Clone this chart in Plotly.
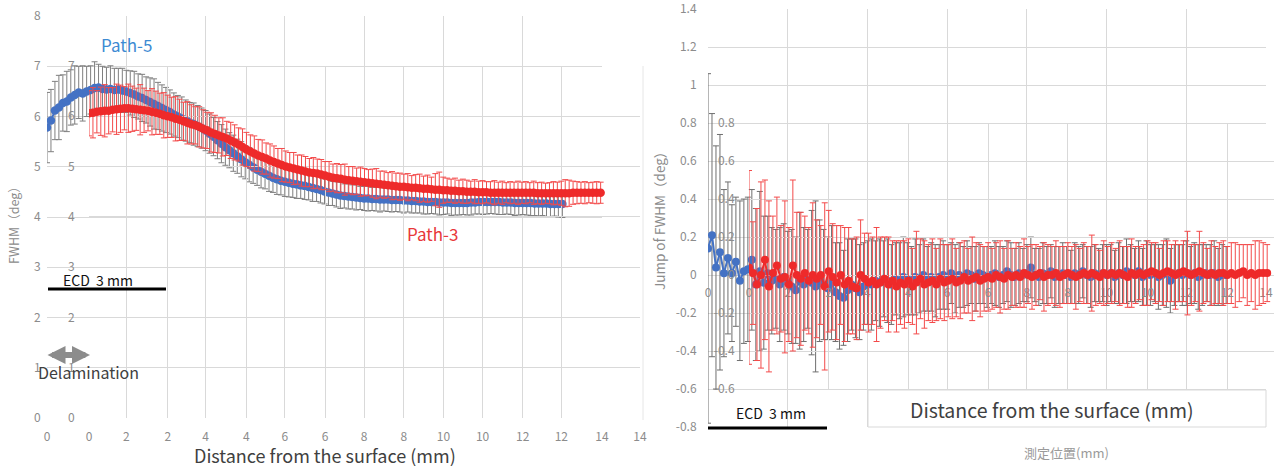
import plotly.graph_objects as go

W, H = 1277, 466
STEP_MM = 0.1

# ---------------- data ----------------
# Left panel: FWHM (deg) vs distance (mm)
PATH5_FWHM = [5.78,5.92,6.12,6.18,6.27,6.30,6.38,6.43,6.48,6.46,
 6.50,6.53,6.57,6.58,6.55,6.54,6.55,6.53,6.54,6.52,
 6.50,6.47,6.44,6.40,6.37,6.33,6.29,6.25,6.21,6.17,
 6.13,6.09,6.04,6.00,5.96,5.92,5.88,5.85,5.81,5.77,
 5.72,5.66,5.60,5.53,5.46,5.39,5.33,5.27,5.21,5.15,
 5.09,5.04,4.99,4.94,4.90,4.86,4.82,4.78,4.75,4.72,
 4.70,4.68,4.66,4.65,4.63,4.62,4.60,4.58,4.56,4.54,
 4.51,4.49,4.47,4.45,4.43,4.42,4.41,4.40,4.39,4.38,
 4.37,4.37,4.36,4.36,4.35,4.35,4.35,4.34,4.34,4.34,
 4.33,4.33,4.32,4.32,4.31,4.31,4.30,4.30,4.30,4.29,
 4.29,4.29,4.28,4.28,4.28,4.28,4.28,4.29,4.29,4.30,
 4.30,4.30,4.30,4.30,4.30,4.29,4.29,4.29,4.28,4.28,
 4.28,4.28,4.28,4.27,4.27,4.27,4.27,4.26,4.26,4.26,
 4.26]
PATH5_FWHM_ERR = [0.70,0.62,0.58,0.64,0.56,0.60,0.55,0.58,0.52,0.55,
 0.50,0.48,0.52,0.46,0.45,0.44,0.46,0.43,0.42,0.44,
 0.42,0.44,0.46,0.45,0.47,0.46,0.48,0.50,0.47,0.46,
 0.45,0.44,0.43,0.42,0.43,0.41,0.40,0.42,0.41,0.40,
 0.40,0.39,0.38,0.37,0.38,0.36,0.35,0.36,0.34,0.35,
 0.33,0.34,0.32,0.31,0.32,0.30,0.31,0.29,0.30,0.28,
 0.29,0.28,0.27,0.28,0.26,0.27,0.26,0.27,0.25,0.26,
 0.25,0.26,0.24,0.25,0.26,0.24,0.25,0.24,0.25,0.23,
 0.24,0.25,0.23,0.24,0.25,0.23,0.24,0.24,0.23,0.24,
 0.25,0.23,0.24,0.24,0.23,0.25,0.24,0.23,0.24,0.25,
 0.24,0.23,0.25,0.24,0.24,0.23,0.24,0.25,0.23,0.24,
 0.25,0.24,0.23,0.24,0.25,0.24,0.23,0.24,0.25,0.24,
 0.23,0.24,0.25,0.24,0.25,0.24,0.26,0.25,0.24,0.26,
 0.27]
PATH3_FWHM = [6.06,6.07,6.09,6.10,6.11,6.11,6.13,6.14,6.15,6.16,
 6.16,6.15,6.14,6.13,6.12,6.11,6.09,6.07,6.05,6.02,
 6.00,5.98,5.95,5.93,5.90,5.87,5.84,5.82,5.79,5.75,
 5.72,5.68,5.65,5.62,5.59,5.56,5.52,5.48,5.44,5.39,
 5.34,5.30,5.26,5.22,5.19,5.16,5.12,5.09,5.06,5.03,
 5.00,4.98,4.96,4.94,4.92,4.90,4.88,4.87,4.86,4.84,
 4.82,4.80,4.78,4.77,4.76,4.74,4.73,4.72,4.71,4.70,
 4.69,4.68,4.67,4.66,4.65,4.64,4.63,4.62,4.61,4.60,
 4.60,4.59,4.58,4.58,4.57,4.56,4.56,4.55,4.54,4.54,
 4.53,4.53,4.52,4.52,4.51,4.51,4.50,4.50,4.50,4.49,
 4.49,4.49,4.48,4.48,4.48,4.48,4.48,4.48,4.48,4.48,
 4.48,4.48,4.48,4.48,4.47,4.47,4.47,4.47,4.47,4.47,
 4.47,4.47,4.47,4.48,4.48,4.48,4.48,4.48,4.48,4.48,
 4.48]
PATH3_FWHM_ERR = [0.45,0.50,0.42,0.48,0.52,0.46,0.44,0.50,0.47,0.43,
 0.48,0.45,0.42,0.50,0.44,0.40,0.46,0.43,0.41,0.45,
 0.42,0.40,0.44,0.41,0.38,0.42,0.39,0.37,0.40,0.38,
 0.36,0.39,0.37,0.35,0.38,0.34,0.36,0.35,0.33,0.36,
 0.34,0.33,0.35,0.32,0.34,0.31,0.33,0.32,0.30,0.33,
 0.31,0.30,0.32,0.29,0.31,0.30,0.28,0.31,0.29,0.30,
 0.28,0.30,0.27,0.29,0.28,0.31,0.27,0.28,0.26,0.29,
 0.27,0.26,0.28,0.30,0.26,0.27,0.25,0.28,0.26,0.27,
 0.25,0.27,0.24,0.26,0.28,0.25,0.27,0.24,0.32,0.35,
 0.26,0.24,0.23,0.25,0.22,0.24,0.23,0.21,0.24,0.22,
 0.23,0.21,0.22,0.24,0.21,0.23,0.20,0.22,0.21,0.23,
 0.21,0.22,0.20,0.23,0.21,0.22,0.20,0.21,0.23,0.22,
 0.24,0.27,0.26,0.23,0.22,0.21,0.22,0.20,0.21,0.22,
 0.21]

# Right panel: jump of FWHM (deg) vs distance (mm)
PATH5_JUMP = [0.14,0.21,0.04,0.12,0.01,0.09,0.01,0.07,-0.03,0.02,
 0.03,0.08,-0.05,0.02,-0.04,0.01,-0.03,-0.02,-0.05,-0.01,
 -0.04,-0.06,-0.08,-0.03,-0.05,-0.02,-0.04,-0.06,-0.03,-0.05,
 -0.07,-0.04,-0.09,-0.11,-0.12,-0.08,-0.05,-0.07,-0.09,-0.06,
 -0.04,-0.05,-0.03,-0.04,-0.02,-0.03,-0.05,-0.02,-0.03,-0.01,
 -0.02,-0.03,-0.01,-0.02,0.00,-0.02,-0.01,-0.03,-0.01,0.00,
 -0.01,0.01,-0.02,0.00,-0.01,0.01,0.00,-0.02,0.01,0.00,
 -0.01,0.00,0.01,-0.01,0.00,0.02,0.00,-0.01,0.01,0.00,
 0.01,0.04,0.00,-0.01,0.01,0.00,0.02,-0.01,0.00,0.01,
 0.00,-0.01,0.01,0.00,0.02,0.00,-0.01,0.01,0.00,0.01,
 0.00,0.01,-0.01,0.01,0.00,0.02,0.01,0.00,0.02,-0.01,
 0.01,0.00,0.01,-0.01,0.00,0.01,-0.03,0.00,0.01,0.00,
 0.01,0.00,0.01,-0.01,0.00,0.01,0.00,0.01,-0.01,0.00,
 0.00]
PATH5_JUMP_ERR = [0.92,0.64,0.64,0.62,0.44,0.40,0.36,0.34,0.42,0.38,
 0.38,0.37,0.40,0.42,0.35,0.30,0.28,0.26,0.30,0.28,
 0.27,0.30,0.28,0.36,0.30,0.26,0.38,0.45,0.32,0.29,
 0.27,0.30,0.26,0.28,0.25,0.27,0.24,0.26,0.25,0.23,
 0.22,0.24,0.21,0.23,0.20,0.22,0.21,0.19,0.20,0.21,
 0.19,0.18,0.20,0.18,0.19,0.17,0.18,0.19,0.17,0.18,
 0.17,0.16,0.18,0.17,0.16,0.17,0.15,0.17,0.16,0.15,
 0.16,0.15,0.17,0.16,0.15,0.16,0.17,0.15,0.16,0.14,
 0.15,0.16,0.14,0.15,0.16,0.15,0.14,0.16,0.15,0.16,
 0.15,0.14,0.16,0.15,0.14,0.15,0.16,0.15,0.14,0.15,
 0.16,0.15,0.14,0.16,0.15,0.17,0.15,0.14,0.16,0.15,
 0.17,0.16,0.15,0.17,0.16,0.18,0.17,0.16,0.15,0.16,
 0.17,0.15,0.16,0.17,0.16,0.15,0.16,0.17,0.15,0.16,
 0.15]
PATH3_JUMP = [0.04,0.01,-0.05,0.00,0.08,-0.06,0.01,0.05,-0.02,-0.01,
 -0.05,0.05,0.00,-0.02,0.01,-0.03,0.00,-0.02,0.00,-0.06,
 0.02,-0.01,-0.04,0.00,-0.05,-0.03,-0.06,-0.07,0.00,-0.02,
 -0.04,-0.03,-0.05,-0.04,-0.02,-0.05,-0.03,-0.06,-0.04,-0.05,
 -0.03,-0.06,-0.04,-0.02,-0.05,-0.04,-0.03,-0.05,-0.02,-0.04,
 -0.03,-0.02,-0.04,-0.03,-0.01,-0.03,-0.02,-0.01,-0.03,-0.02,
 -0.01,-0.02,0.00,-0.01,-0.02,0.00,-0.01,0.00,-0.01,0.01,
 0.00,-0.01,0.00,0.01,-0.01,0.00,0.00,0.01,-0.01,0.00,
 0.01,0.00,-0.01,0.00,0.01,0.00,0.01,0.00,-0.01,0.01,
 0.00,0.01,0.00,0.01,0.00,-0.01,0.01,0.00,0.01,0.00,
 0.01,0.02,0.01,0.00,0.01,0.02,0.01,0.00,0.01,0.02,
 0.01,0.00,0.01,0.02,0.01,0.00,0.01,0.00,0.01,0.01,
 0.00,0.01,0.00,0.01,0.02,0.00,0.01,0.00,0.01,0.01,
 0.01]
PATH3_JUMP_ERR = [0.51,0.27,0.40,0.49,0.42,0.45,0.30,0.36,0.28,0.40,
 0.30,0.45,0.33,0.35,0.30,0.28,0.38,0.31,0.26,0.44,
 0.32,0.28,0.30,0.26,0.30,0.28,0.25,0.27,0.29,0.24,
 0.26,0.23,0.30,0.24,0.22,0.25,0.21,0.24,0.22,0.23,
 0.22,0.20,0.27,0.21,0.23,0.20,0.22,0.19,0.21,0.20,
 0.19,0.21,0.18,0.20,0.19,0.17,0.22,0.18,0.19,0.17,
 0.18,0.16,0.17,0.19,0.16,0.18,0.15,0.17,0.16,0.18,
 0.15,0.17,0.16,0.14,0.18,0.16,0.15,0.17,0.16,0.15,
 0.16,0.15,0.17,0.14,0.16,0.15,0.20,0.16,0.14,0.17,
 0.15,0.16,0.14,0.17,0.15,0.16,0.18,0.15,0.14,0.16,
 0.17,0.15,0.16,0.14,0.17,0.16,0.15,0.18,0.15,0.16,
 0.22,0.16,0.15,0.21,0.16,0.14,0.17,0.15,0.16,0.17,
 0.15,0.16,0.17,0.15,0.14,0.16,0.15,0.18,0.17,0.16,
 0.15]

X_TICKS = [0, 2, 4, 6, 8, 10, 12, 14]
X_TICK_TEXT = ["0", "2", "4", "6", "8", "10", "12", "14"]


def positions(values):
    return [round(i * STEP_MM, 1) for i in range(len(values))]


# ---------------- helpers ----------------
def px(x):
    return x / W


def py(y):
    return (H - y) / H


FONT = "Noto Sans CJK JP, Noto Sans, sans-serif"
GRID = "#d9d9d9"
TICKC = "#8c8c8c"
BLUE = "#4472c4"
RED = "#ee2a2a"


def xax(dom, rng, anchor, ticklen=8, position=None):
    d = dict(domain=dom, range=rng, tickvals=X_TICKS, ticktext=X_TICK_TEXT,
             showgrid=True, gridcolor=GRID, gridwidth=1, zeroline=False,
             showline=False, ticks="outside", ticklen=ticklen, automargin=False,
             ticklabeloverflow="allow",
             tickcolor="rgba(0,0,0,0)", tickfont=dict(size=12, color=TICKC, family=FONT),
             anchor=anchor, fixedrange=True)
    if position is not None:
        d["anchor"] = "free"
        d["position"] = position
    return d


def yax(dom, rng, dtick, anchor, ticklen=2, tickvals=None, ticktext=None):
    d = dict(domain=dom, range=rng, showgrid=True, gridcolor=GRID, gridwidth=1,
             zeroline=False, showline=False, ticks="outside", ticklen=ticklen,
             automargin=False, ticklabeloverflow="allow",
             tickcolor="rgba(0,0,0,0)", tickfont=dict(size=12, color=TICKC, family=FONT),
             anchor=anchor, fixedrange=True)
    if tickvals is not None:
        d["tickvals"] = tickvals
        d["ticktext"] = ticktext
    else:
        d["dtick"] = dtick
        d["tick0"] = 0
    return d


fig = go.Figure()

# Left panel
fig.add_trace(go.Scatter(
    x=positions(PATH5_FWHM), y=PATH5_FWHM, mode="lines+markers", name="Path-5",
    marker=dict(size=8.5, color=BLUE), line=dict(color=BLUE, width=2),
    error_y=dict(type="data", array=PATH5_FWHM_ERR, color="#7f7f7f", thickness=1, width=3),
    xaxis="x", yaxis="y"))
fig.add_trace(go.Scatter(
    x=positions(PATH3_FWHM), y=PATH3_FWHM, mode="lines+markers", name="Path-3",
    marker=dict(size=8.5, color=RED), line=dict(color=RED, width=2),
    error_y=dict(type="data", array=PATH3_FWHM_ERR, color="#f34a4a", thickness=1, width=3),
    xaxis="x2", yaxis="y2"))

# Right panel
fig.add_trace(go.Scatter(
    x=positions(PATH5_JUMP), y=PATH5_JUMP, mode="lines+markers", name="Path-5",
    marker=dict(size=8, color=BLUE), line=dict(color=BLUE, width=2),
    error_y=dict(type="data", array=PATH5_JUMP_ERR, color="#6f6f6f", thickness=1, width=3),
    xaxis="x3", yaxis="y3"))
fig.add_trace(go.Scatter(
    x=positions(PATH3_JUMP), y=PATH3_JUMP, mode="lines+markers", name="Path-3",
    marker=dict(size=8, color=RED), line=dict(color=RED, width=2),
    error_y=dict(type="data", array=PATH3_JUMP_ERR, color="#f34a4a", thickness=1, width=3),
    xaxis="x4", yaxis="y4"))

y0_right = py(275)

fig.update_layout(
    width=W, height=H, margin=dict(l=0, r=0, t=0, b=0, autoexpand=False),
    paper_bgcolor="white", plot_bgcolor="rgba(0,0,0,0)", showlegend=False,
    font=dict(family=FONT, color="#404040"),
    xaxis=xax([px(47), px(602)], [0, 14], "y", ticklen=8),
    yaxis=yax([py(418), py(16)], [0, 8.001], 1, "x", ticklen=3),
    xaxis2=xax([px(89), px(640)], [0, 14], "y2", ticklen=8),
    yaxis2=yax([py(418), py(66)], [0, 7], 1, "x2", ticklen=11),
    xaxis3=xax([px(708), px(1266)], [0, 14], "y3", ticklen=7, position=y0_right),
    yaxis3=yax([py(427), py(9)], [-0.8, 1.4005], None, "x3", ticklen=8,
               tickvals=[-0.8, -0.6, -0.4, -0.2, 0, 0.2, 0.4, 0.6, 0.8, 1.0, 1.2, 1.4],
               ticktext=["-0.8", "-0.6", "-0.4", "-0.2", "0", "0.2", "0.4", "0.6", "0.8", "1", "1.2", "1.4"]),
    xaxis4=xax([px(749), px(1274)], [0, (1274 - 749) / 39.86], "y4", ticklen=7, position=y0_right),
    yaxis4=yax([py(389), py(123)], [-0.6, 0.8], None, "x4", ticklen=11,
               tickvals=[-0.6, -0.4, -0.2, 0, 0.2, 0.4, 0.6, 0.8],
               ticktext=["-0.6", "-0.4", "-0.2", "0", "0.2", "0.4", "0.6", "0.8"]),
)


def note(text, x, y, size=12, color="#404040", angle=0, **kw):
    fig.add_annotation(text=text, x=px(x), y=py(y), xref="paper", yref="paper",
                       showarrow=False, xanchor="center", yanchor="middle",
                       textangle=angle, font=dict(size=size, color=color, family=FONT), **kw)


# Left panel texts
note("Path-5", 126, 44, size=17, color="#3d8bd3")
note("Path-3", 432, 233, size=17, color="#e8383a")
note("ECD  3 mm", 98, 280, size=14, color="#111111")
note("Delamination", 88, 372, size=16, color="#404040")
note("FWHM（deg）", 14, 222, size=12.5, color="#8c8c8c", angle=-90)
note("Distance from the surface (mm)", 325, 455, size=18, color="#404040")

# Right panel texts
note("Jump of FWHM（deg）", 659, 218, size=13.5, color="#8c8c8c", angle=-90)
note("ECD  3 mm", 771, 413, size=14, color="#111111")
note("測定位置(mm)", 1066, 452, size=13, color="#9a9a9a")

# Delamination double arrow
fig.add_annotation(text="", x=px(90), y=py(355), xref="paper", yref="paper",
                   ax=-44, ay=0, showarrow=True, arrowside="end+start",
                   arrowhead=2, arrowsize=0.6, arrowwidth=6, arrowcolor="#8c8c8c")

# ECD bars, title box, faint panel edge
fig.add_shape(type="line", xref="paper", yref="paper", x0=px(48), x1=px(166),
              y0=py(289), y1=py(289), line=dict(color="black", width=3))
fig.add_shape(type="line", xref="paper", yref="paper", x0=px(708), x1=px(827),
              y0=py(428), y1=py(428), line=dict(color="black", width=3))
fig.add_shape(type="rect", xref="paper", yref="paper", x0=px(868), x1=px(1266),
              y0=py(427), y1=py(390), fillcolor="white", line=dict(color="#d9d9d9", width=1))
fig.add_shape(type="line", xref="paper", yref="paper", x0=px(643), x1=px(643),
              y0=py(420), y1=py(66), line=dict(color="#e6e6e6", width=1))

note("Distance from the surface (mm)", 1052, 409, size=19.5, color="#404040")

fig.write_html(
    "out.html",
    config={"displayModeBar": False},
    post_script="document.documentElement.style.margin='0';"
                "document.body.style.margin='0';document.body.style.padding='0';"
                "document.body.style.overflow='hidden';",
)
